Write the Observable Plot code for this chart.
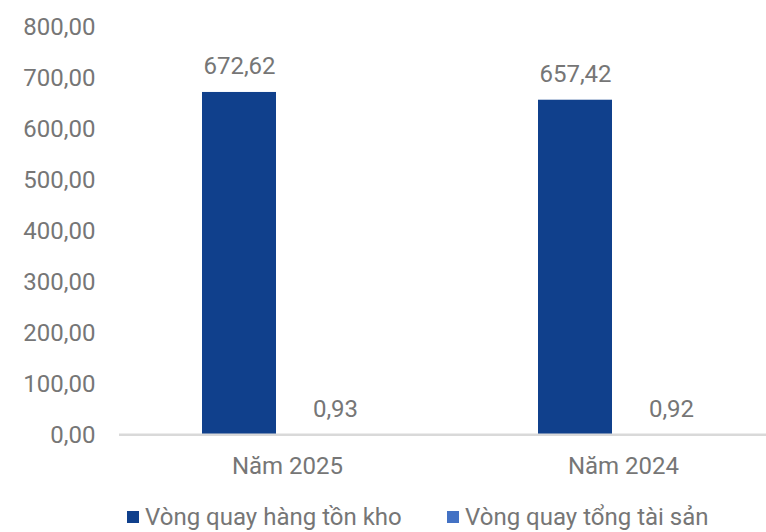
<!DOCTYPE html>
<html>
<head>
<meta charset="utf-8">
<script src="https://cdn.jsdelivr.net/npm/d3@7"></script>
<script src="https://cdn.jsdelivr.net/npm/@observablehq/plot@0.6"></script>
<style>
  html, body { margin: 0; padding: 0; background: white; overflow: hidden; }
  #wrap { position: relative; width: 766px; height: 532px; font-family: Roboto, sans-serif; }
  .legend { position: absolute; top: 503px; left: 0; width: 766px; height: 30px; color: #767676; font-size: 24px; }
  .item { position: absolute; top: 0; display: flex; align-items: center; white-space: nowrap; }
  .sw { width: 12px; height: 12px; margin-right: 6px; }
</style>
</head>
<body>
<div id="wrap"></div>
<script>
const years = ["Năm 2025", "Năm 2024"];
const seriesNames = ["Vòng quay hàng tồn kho", "Vòng quay tổng tài sản"];
const inventoryTurnover = [672.62, 657.42];
const assetTurnover = [0.93, 0.92];
const yTicks = [0, 100, 200, 300, 400, 500, 600, 700, 800];
const colors = ["#10408c", "#4472c4"];

const fmt = v => v.toFixed(2).replace(".", ",");
const data = years.flatMap((yr, i) => [
  {year: yr, series: seriesNames[0], value: inventoryTurnover[i]},
  {year: yr, series: seriesNames[1], value: assetTurnover[i]}
]);

const chart = Plot.plot({
  width: 766,
  height: 490,
  marginLeft: 119,
  marginRight: -25,
  marginTop: 27,
  marginBottom: 55,
  style: {fontFamily: "Roboto", fontSize: "24px", color: "#767676", background: "white", overflow: "hidden"},
  fx: {domain: years, padding: 0, label: null, tickSize: 0, tickPadding: 21, axis: "bottom"},
  x: {domain: seriesNames, range: [201, 373], paddingInner: 0.2268, paddingOuter: 0, axis: null},
  y: {domain: [0, 800], ticks: yTicks, tickFormat: fmt, tickSize: 0, tickPadding: 24, label: null},
  color: {domain: seriesNames, range: colors},
  marks: [
    Plot.barY(data, {fx: "year", x: "series", y: "value", fill: "series"}),
    Plot.ruleY([0], {stroke: "#d9d9d9", strokeWidth: 2.4, dy: -0.7}),
    Plot.text(data, {fx: "year", x: "series", y: "value", text: d => fmt(d.value), dy: -26, fill: "#767676"})
  ]
});
const wrap = document.getElementById("wrap");
wrap.appendChild(chart);

const legend = document.createElement("div");
legend.className = "legend";
const lefts = [127, 447];
seriesNames.forEach((s, i) => {
  const it = document.createElement("div");
  it.className = "item";
  it.style.left = lefts[i] + "px";
  const sw = document.createElement("span");
  sw.className = "sw";
  sw.style.background = colors[i];
  const tx = document.createElement("span");
  tx.textContent = s;
  it.appendChild(sw);
  it.appendChild(tx);
  legend.appendChild(it);
});
wrap.appendChild(legend);
</script>
</body>
</html>
